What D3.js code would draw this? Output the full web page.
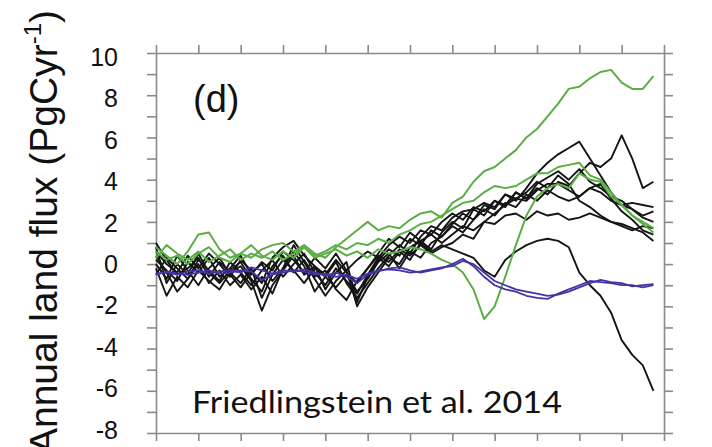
<!DOCTYPE html>
<html>
<head>
<meta charset="utf-8">
<script src="https://cdn.jsdelivr.net/npm/d3@7"></script>
<style>
  body { margin: 0; background: #fff; }
</style>
</head>
<body>
<div class="chart"></div>
<script>
// years every 5 yr, 1860..2095
const years = d3.range(1860, 2096, 5);

const yTicks = d3.range(-8, 11, 1);
const yLabels = [10, 8, 6, 4, 2, 0, -2, -4, -6, -8];
const xTicks = d3.range(1860, 2101, 20);

// black model runs
const black1 = [0.2,-0.3,-0.8,0.1,-0.4,0.3,-0.6,-0.2,0.4,-0.5,0.1,-0.3,0.6,0.2,-0.4,0.3,-0.2,0.5,-0.3,0.2,0.6,0.3,0.9,1.3,1.0,1.6,1.4,2.0,
                2.4,2.1,2.7,2.5,3.0,2.8,3.4,3.1,3.6,3.3,3.9,3.7,4.3,4.8,4.6,5.0,6.1,5.0,3.6,3.9];
const black2 = [1.0,0.2,-0.5,-0.2,0.3,-0.6,0.1,-0.4,-0.1,-0.8,-2.2,-1.0,-0.3,0.4,-0.5,-0.1,-1.2,-0.4,0.1,-1.8,-0.6,0.2,0.7,0.4,1.2,0.9,1.6,1.3,
                1.9,2.4,2.1,2.8,2.6,3.3,3.0,3.6,4.3,4.8,5.2,5.5,5.8,5.0,4.2,3.4,2.8,2.6,2.3,2.5];
const black3 = [0.4,-0.4,-1.3,-0.7,0.0,-0.9,-0.3,-1.0,-0.5,-1.2,-0.6,-1.4,-0.2,0.9,0.1,-0.7,-1.5,-0.8,-0.3,-2.0,-1.1,-0.4,0.3,0.0,0.8,1.1,0.7,1.5,
                2.0,1.7,2.6,2.3,3.0,2.7,3.4,3.1,3.8,4.1,4.4,4.0,4.5,3.9,3.6,3.2,3.0,2.6,2.2,2.0];
const black4 = [-0.2,-1.5,-0.6,-1.1,-0.3,-0.8,-1.2,-0.4,-0.9,-0.2,-1.6,-0.5,0.2,-0.3,-0.9,-0.2,-0.6,-1.1,-0.5,-1.3,-0.7,0.1,0.5,-0.2,0.6,0.3,1.0,1.3,
                1.8,1.5,2.1,2.6,2.3,2.9,2.7,3.3,3.0,3.5,3.2,3.0,3.2,3.6,3.8,3.1,2.5,2.1,1.6,1.4];
const black5 = [0.6,0.0,-0.4,0.4,-0.2,0.5,0.0,-0.6,0.2,-0.3,-0.9,0.3,0.8,1.1,0.4,-0.1,-0.5,0.2,-0.4,-0.9,-0.2,0.5,1.2,0.8,1.5,1.1,1.4,1.0,
                1.4,1.8,1.6,2.0,1.9,2.3,2.4,2.1,2.5,2.3,2.4,2.1,2.2,2.4,2.2,2.0,1.9,1.7,1.5,1.1];
const black6 = [-0.5,0.3,-0.2,-0.7,0.2,-0.3,-0.8,0.1,-0.4,-1.0,-0.3,0.2,-0.6,0.0,0.5,-0.4,-1.0,-0.2,-0.8,-1.4,-0.5,0.3,-0.1,0.6,0.2,1.0,0.6,0.9,
                0.7,0.5,0.3,-0.3,-0.6,0.2,0.6,0.9,1.1,1.2,1.1,0.8,-0.4,-1.0,-1.5,-2.3,-3.6,-4.3,-4.8,-6.0];
const black7 = [0.0,-0.7,0.4,-0.3,-1.0,-0.2,0.3,-0.5,-1.1,-0.4,0.0,-0.8,-0.2,0.6,-0.1,-1.3,-0.6,0.1,-0.9,-1.6,-0.9,-0.2,0.4,0.9,0.5,1.3,1.8,1.6,
                2.2,2.5,2.6,2.9,2.7,3.3,3.1,3.0,3.5,3.8,3.8,3.5,3.2,3.6,3.4,3.0,2.8,2.9,2.8,2.7];
const black8 = [0.8,-0.9,0.0,-0.5,0.5,-0.4,-0.9,-0.3,0.1,-0.7,-1.3,-0.1,0.4,-0.4,0.2,-0.6,-0.3,-1.2,-1.7,-0.8,-0.2,0.4,0.1,0.7,0.4,0.9,0.5,0.8,
                1.0,1.4,1.2,2.0,2.4,2.8,3.1,3.4,3.9,3.6,4.2,3.8,3.0,2.7,2.3,2.0,1.8,1.6,1.8,1.7];

// green model runs
const green1 = [0.6,0.2,0.4,0.0,0.5,0.8,0.3,0.1,0.5,0.3,0.7,0.9,1.0,0.6,0.9,0.5,0.3,0.8,1.2,1.6,2.0,1.6,1.8,1.7,2.1,2.4,2.5,2.2,
                2.9,3.2,3.9,4.4,4.6,5.0,5.4,6.0,6.4,7.0,7.6,8.3,8.4,8.8,9.1,9.2,8.6,8.3,8.3,8.9];
const green2 = [0.8,0.4,0.0,0.6,1.4,1.5,0.7,0.3,0.5,0.9,0.4,0.2,0.6,0.3,0.8,0.4,0.6,0.9,0.7,1.0,0.9,1.2,1.0,1.4,1.6,1.9,2.0,2.3,
                2.6,2.9,3.0,3.4,3.7,3.6,3.7,4.0,4.3,4.3,4.6,4.7,4.8,4.2,4.0,3.4,2.8,2.3,2.0,1.7];
const green3 = [0.3,0.9,0.5,0.2,0.6,0.1,0.4,0.7,0.2,0.5,0.3,0.6,0.2,0.5,0.8,0.3,0.5,0.7,0.4,0.6,0.3,0.7,0.5,0.6,0.8,0.7,0.5,0.2,
                0.0,-0.4,-1.2,-2.6,-2.0,-0.6,0.9,2.3,3.2,3.6,3.8,3.6,4.3,4.0,3.9,3.2,2.8,2.3,1.9,1.5];

// blue model runs
const blue1 = [-0.45,-0.4,-0.5,-0.35,-0.3,-0.45,-0.35,-0.3,-0.4,-0.15,-0.3,-0.45,-0.3,-0.35,-0.25,-0.4,-0.55,-0.4,-0.6,-0.9,-0.5,-0.35,-0.2,-0.15,-0.3,-0.4,-0.3,-0.2,
               0.0,0.25,-0.1,-0.6,-1.0,-1.2,-1.3,-1.5,-1.6,-1.65,-1.4,-1.2,-1.0,-0.8,-0.85,-0.9,-1.0,-1.0,-1.1,-1.0];
const blue2 = [-0.5,-0.35,-0.45,-0.5,-0.4,-0.3,-0.45,-0.4,-0.3,-0.35,-0.75,-0.5,-0.4,-0.3,-0.35,-0.5,-0.45,-0.6,-0.5,-0.7,-0.45,-0.3,-0.25,-0.3,-0.4,-0.35,-0.25,-0.15,
               -0.1,0.15,0.0,-0.4,-0.8,-1.0,-1.2,-1.3,-1.4,-1.5,-1.45,-1.3,-1.1,-0.9,-0.75,-0.85,-0.9,-1.05,-1.0,-0.95];

const blacks = [black1, black2, black3, black4, black5, black6, black7, black8];
const greens = [green1, green2, green3];
const blues = [blue1, blue2];

const svg = d3.select(".chart").append("svg")
    .attr("width", 712)
    .attr("height", 447)
    .style("font-family", "'Liberation Sans', Arial, sans-serif");

const plot = {left: 156, right: 664, top: 53, bottom: 433};

const x = d3.scaleLinear().domain([1860, 2100]).range([plot.left, plot.right]);
const y = d3.scaleLinear().domain([-8, 10]).range([plot.bottom, plot.top]);
// tick labels sit a little off the ticks in the original figure
const yLab = d3.scaleLinear().domain([-8, 10]).range([430, 57.5]);

const axisColor = "#8a8a8a";

function styleAxis(g) {
    g.selectAll("path, line").attr("stroke", axisColor).attr("stroke-width", 1.6);
}

svg.append("g")
    .attr("transform", `translate(${plot.left},0)`)
    .call(d3.axisLeft(y).tickValues(yTicks).tickSize(9).tickSizeOuter(0).tickFormat(""))
    .call(styleAxis);

svg.append("g")
    .attr("transform", `translate(${plot.right},0)`)
    .call(d3.axisRight(y).tickValues(yTicks).tickSize(9).tickSizeOuter(0).tickFormat(""))
    .call(styleAxis);

svg.append("g")
    .attr("transform", `translate(0,${plot.top})`)
    .call(d3.axisTop(x).tickValues(xTicks).tickSize(8).tickSizeOuter(0).tickFormat(""))
    .call(styleAxis);

svg.append("g")
    .attr("transform", `translate(0,${plot.bottom})`)
    .call(d3.axisBottom(x).tickValues(xTicks).tickSize(8).tickSizeOuter(0).tickFormat(""))
    .call(styleAxis);

// tick labels (plain hyphen minus, as in the source)
const labAxis = svg.append("g")
    .attr("transform", `translate(${plot.left},0)`)
    .call(d3.axisLeft(yLab).tickValues(yLabels).tickSize(0).tickPadding(38)
        .tickFormat(d => String(d)));
labAxis.select(".domain").remove();
labAxis.selectAll("text")
    .attr("fill", "#111")
    .style("font-size", "25px")
    .style("font-family", "'Liberation Sans', Arial, sans-serif");

const line = d3.line()
    .x((d, i) => x(years[i]))
    .y(d => y(d));

svg.append("g").selectAll("path")
    .data(blacks)
    .join("path")
    .attr("d", line)
    .attr("fill", "none")
    .attr("stroke", "#151515")
    .attr("stroke-width", 1.9)
    .attr("stroke-linejoin", "round");

svg.append("g").selectAll("path")
    .data(greens)
    .join("path")
    .attr("d", line)
    .attr("fill", "none")
    .attr("stroke", "#5aae45")
    .attr("stroke-width", 2)
    .attr("stroke-linejoin", "round");

svg.append("g").selectAll("path")
    .data(blues)
    .join("path")
    .attr("d", line)
    .attr("fill", "none")
    .attr("stroke", "#4333a6")
    .attr("stroke-width", 1.8)
    .attr("stroke-linejoin", "round");

// panel letter
svg.append("text")
    .attr("x", 193)
    .attr("y", 112)
    .attr("fill", "#111")
    .style("font-size", "38px")
    .text("(d)");

// citation
svg.append("text")
    .attr("x", 192)
    .attr("y", 413)
    .attr("fill", "#111")
    .attr("textLength", 370)
    .attr("lengthAdjust", "spacingAndGlyphs")
    .style("font-size", "31px")
    .style("font-family", "Lato, 'Open Sans', sans-serif")
    .text("Friedlingstein et al. 2014");

// y axis title, clipped at the bottom like the source
const yTitle = svg.append("text")
    .attr("transform", "translate(57,10) rotate(-90)")
    .attr("text-anchor", "end")
    .attr("fill", "#111")
    .style("font-size", "39px");
yTitle.append("tspan").text("Annual land flux (PgCyr");
yTitle.append("tspan").style("font-size", "24px").attr("dy", -16).text("-1");
yTitle.append("tspan").attr("dy", 16).text(")");
</script>
</body>
</html>
